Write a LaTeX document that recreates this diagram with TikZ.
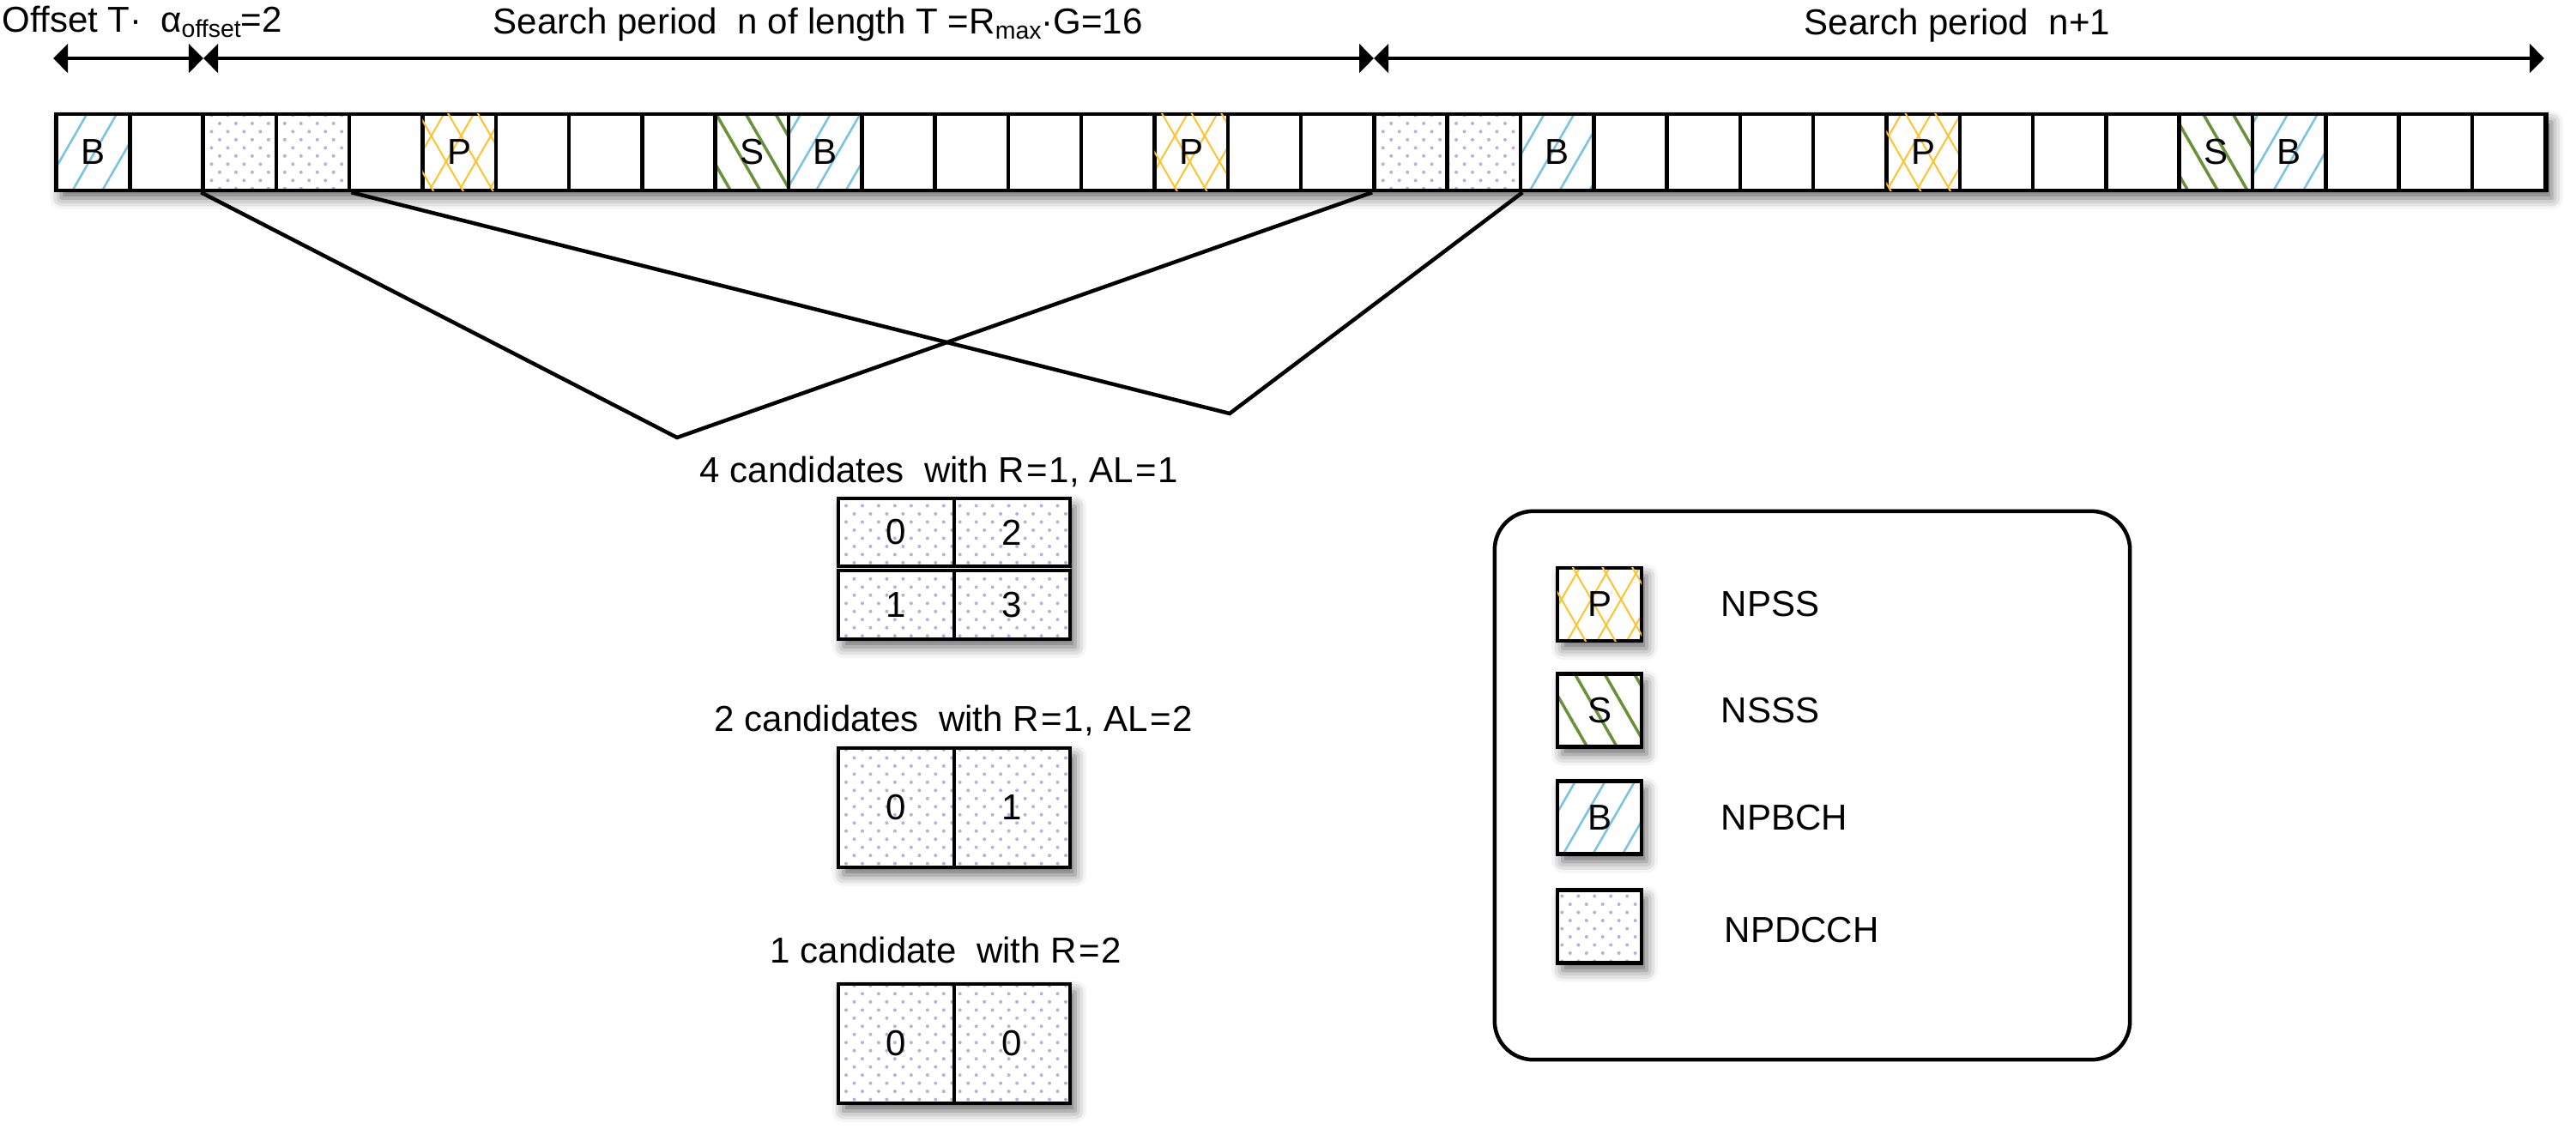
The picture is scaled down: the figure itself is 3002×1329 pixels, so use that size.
\documentclass[tikz,border=0pt]{standalone}
\usepackage{fontspec}
\setmainfont{Liberation Sans}
\usetikzlibrary{arrows.meta,patterns.meta,shadows.blur}
\definecolor{bcol}{RGB}{120,195,225}
\definecolor{scol}{RGB}{105,145,55}
\definecolor{pcol}{RGB}{255,195,45}
\definecolor{dcol}{RGB}{185,175,220}
\newcommand{\fsz}{\fontsize{11.95pt}{14pt}\selectfont}
\newcommand{\subsz}{\fontsize{8.1pt}{9pt}\selectfont}
\newcommand{\lowsub}[1]{\raisebox{-0.06cm}{\subsz #1}}
\tikzset{
 lw/.style={line width=0.045cm},
 cellbox/.style={draw, line width=0.045cm, minimum width=0.853cm, minimum height=0.89cm, inner sep=0pt, font=\fsz},
 candcell/.style={draw, line width=0.045cm, minimum width=1.35cm, inner sep=0pt, font=\fsz, dpat},
 legsq/.style={draw, line width=0.045cm, minimum width=0.98cm, minimum height=0.85cm, inner sep=0pt, font=\fsz, shad, preaction={fill=white}},
 plain/.style={},
 bpat/.style={pattern={Lines[angle=60,distance=0.3cm,line width=0.025cm]}, pattern color=bcol},
 spat/.style={pattern={Lines[angle=-60,distance=0.3cm,line width=0.035cm]}, pattern color=scol},
 ppat/.style={pattern={Lines[angle=60,distance=0.3cm,line width=0.02cm]}, pattern color=pcol,
   postaction={pattern={Lines[angle=-60,distance=0.3cm,line width=0.02cm]}, pattern color=pcol}},
 dpat/.style={pattern={Dots[angle=45,distance=0.134cm,radius=0.02cm]}, pattern color=dcol},
 shad/.style={blur shadow={shadow xshift=0.06cm, shadow yshift=-0.09cm, shadow blur radius=0.13cm, shadow opacity=60}},
 dimarrow/.style={line width=0.045cm, {Triangle[length=0.17cm,width=0.33cm]}-{Triangle[length=0.17cm,width=0.33cm]}},
 conn/.style={line width=0.045cm, line join=miter},
 txt/.style={font=\fsz, inner sep=0pt},
}
\begin{document}
\begin{tikzpicture}[x=0.01cm,y=-0.01cm]
\useasboundingbox (0,0) rectangle (3002,1329);

% header texts
\node[txt, anchor=base west] (toff) at (2,37) {Offset T·\hspace{0.22cm}α\lowsub{offset}=2};
\node[txt, anchor=base west] (tn) at (574,39) {Search period\ \ n of length T =R\lowsub{max}·G=16};
\node[txt, anchor=base west] (tn1) at (2102,40) {Search period\ \ n+1};

% dimension arrows
\coordinate (a0) at (62,68);
\coordinate (a1) at (237,68);
\coordinate (a2) at (1601,68);
\coordinate (a3) at (2965,68);
\draw[dimarrow] (a0) -- (a1);
\draw[dimarrow] (a1) -- (a2);
\draw[dimarrow] (a2) -- (a3);

% strip
\node[draw, lw, fill=white, shad, minimum width=29.01cm, minimum height=0.89cm, inner sep=0pt] (strip) at (1516.5,177.5) {};
\foreach \i/\s/\l in {0/bpat/B,1/plain/{},2/dpat/{},3/dpat/{},4/plain/{},5/ppat/P,6/plain/{},7/plain/{},8/plain/{},9/spat/S,10/bpat/B,11/plain/{},12/plain/{},13/plain/{},14/plain/{},15/ppat/P,16/plain/{},17/plain/{},18/dpat/{},19/dpat/{},20/bpat/B,21/plain/{},22/plain/{},23/plain/{},24/plain/{},25/ppat/P,26/plain/{},27/plain/{},28/plain/{},29/spat/S,30/bpat/B,31/plain/{},32/plain/{},33/plain/{}}
  \node[cellbox,\s] (c\i) at ({66+85.3*(\i+0.5)},177.5) {\l};

% connectors
\coordinate (v1) at (789,510);
\coordinate (v2) at (1433,482);
\draw[conn] (c2.south west) -- (v1) -- (c18.south west);
\draw[conn] (c3.south east) -- (v2) -- (c19.south east);

% candidate texts
\node[txt, anchor=base west] (t4) at (815,562) {4 candidates\ \ with R\kern0.05em=\kern0.05em1, AL\kern0.05em=\kern0.05em1};
\node[txt, anchor=base west] (t2) at (832,852) {2 candidates\ \ with R\kern0.05em=\kern0.05em1, AL\kern0.05em=\kern0.05em2};
\node[txt, anchor=base west] (t1) at (897,1122) {1 candidate\ \ with R\kern0.05em=\kern0.05em2};

% 4 candidates box
\node[fill=white, shad, minimum width=2.7cm, minimum height=1.64cm, inner sep=0pt] (box4) at (1112,663) {};
\node[candcell, minimum height=0.79cm] (k0) at (1044.5,620.5) {0};
\node[candcell, minimum height=0.79cm] (k2) at (1179.5,620.5) {2};
\node[candcell, minimum height=0.80cm] (k1) at (1044.5,705) {1};
\node[candcell, minimum height=0.80cm] (k3) at (1179.5,705) {3};

% 2 candidates box
\node[fill=white, shad, minimum width=2.7cm, minimum height=1.39cm, inner sep=0pt] (box2) at (1112,941.5) {};
\node[candcell, minimum height=1.39cm] (m0) at (1044.5,941.5) {0};
\node[candcell, minimum height=1.39cm] (m1) at (1179.5,941.5) {1};

% 1 candidate box
\node[fill=white, shad, minimum width=2.7cm, minimum height=1.39cm, inner sep=0pt] (box1) at (1112,1216.5) {};
\node[candcell, minimum height=1.39cm] (n0) at (1044.5,1216.5) {0};
\node[candcell, minimum height=1.39cm] (n1) at (1179.5,1216.5) {0};

% legend
\node[draw, lw, rounded corners=0.45cm, minimum width=7.4cm, minimum height=6.39cm, inner sep=0pt] (legend) at (2112,915.5) {};
\node[legsq, ppat] (lp) at (1864,704.5) {P};
\node[legsq, spat] (ls) at (1864,828) {S};
\node[legsq, bpat] (lb) at (1864,953) {B};
\node[legsq, dpat] (ld) at (1864,1080) {};
\node[txt, anchor=west] (lpt) at (2005,704.5) {NPSS};
\node[txt, anchor=west] (lst) at (2005,828) {NSSS};
\node[txt, anchor=west] (lbt) at (2005,953) {NPBCH};
\node[txt, anchor=west] (ldt) at (2009,1084) {NPDCCH};
\end{tikzpicture}
\end{document}
